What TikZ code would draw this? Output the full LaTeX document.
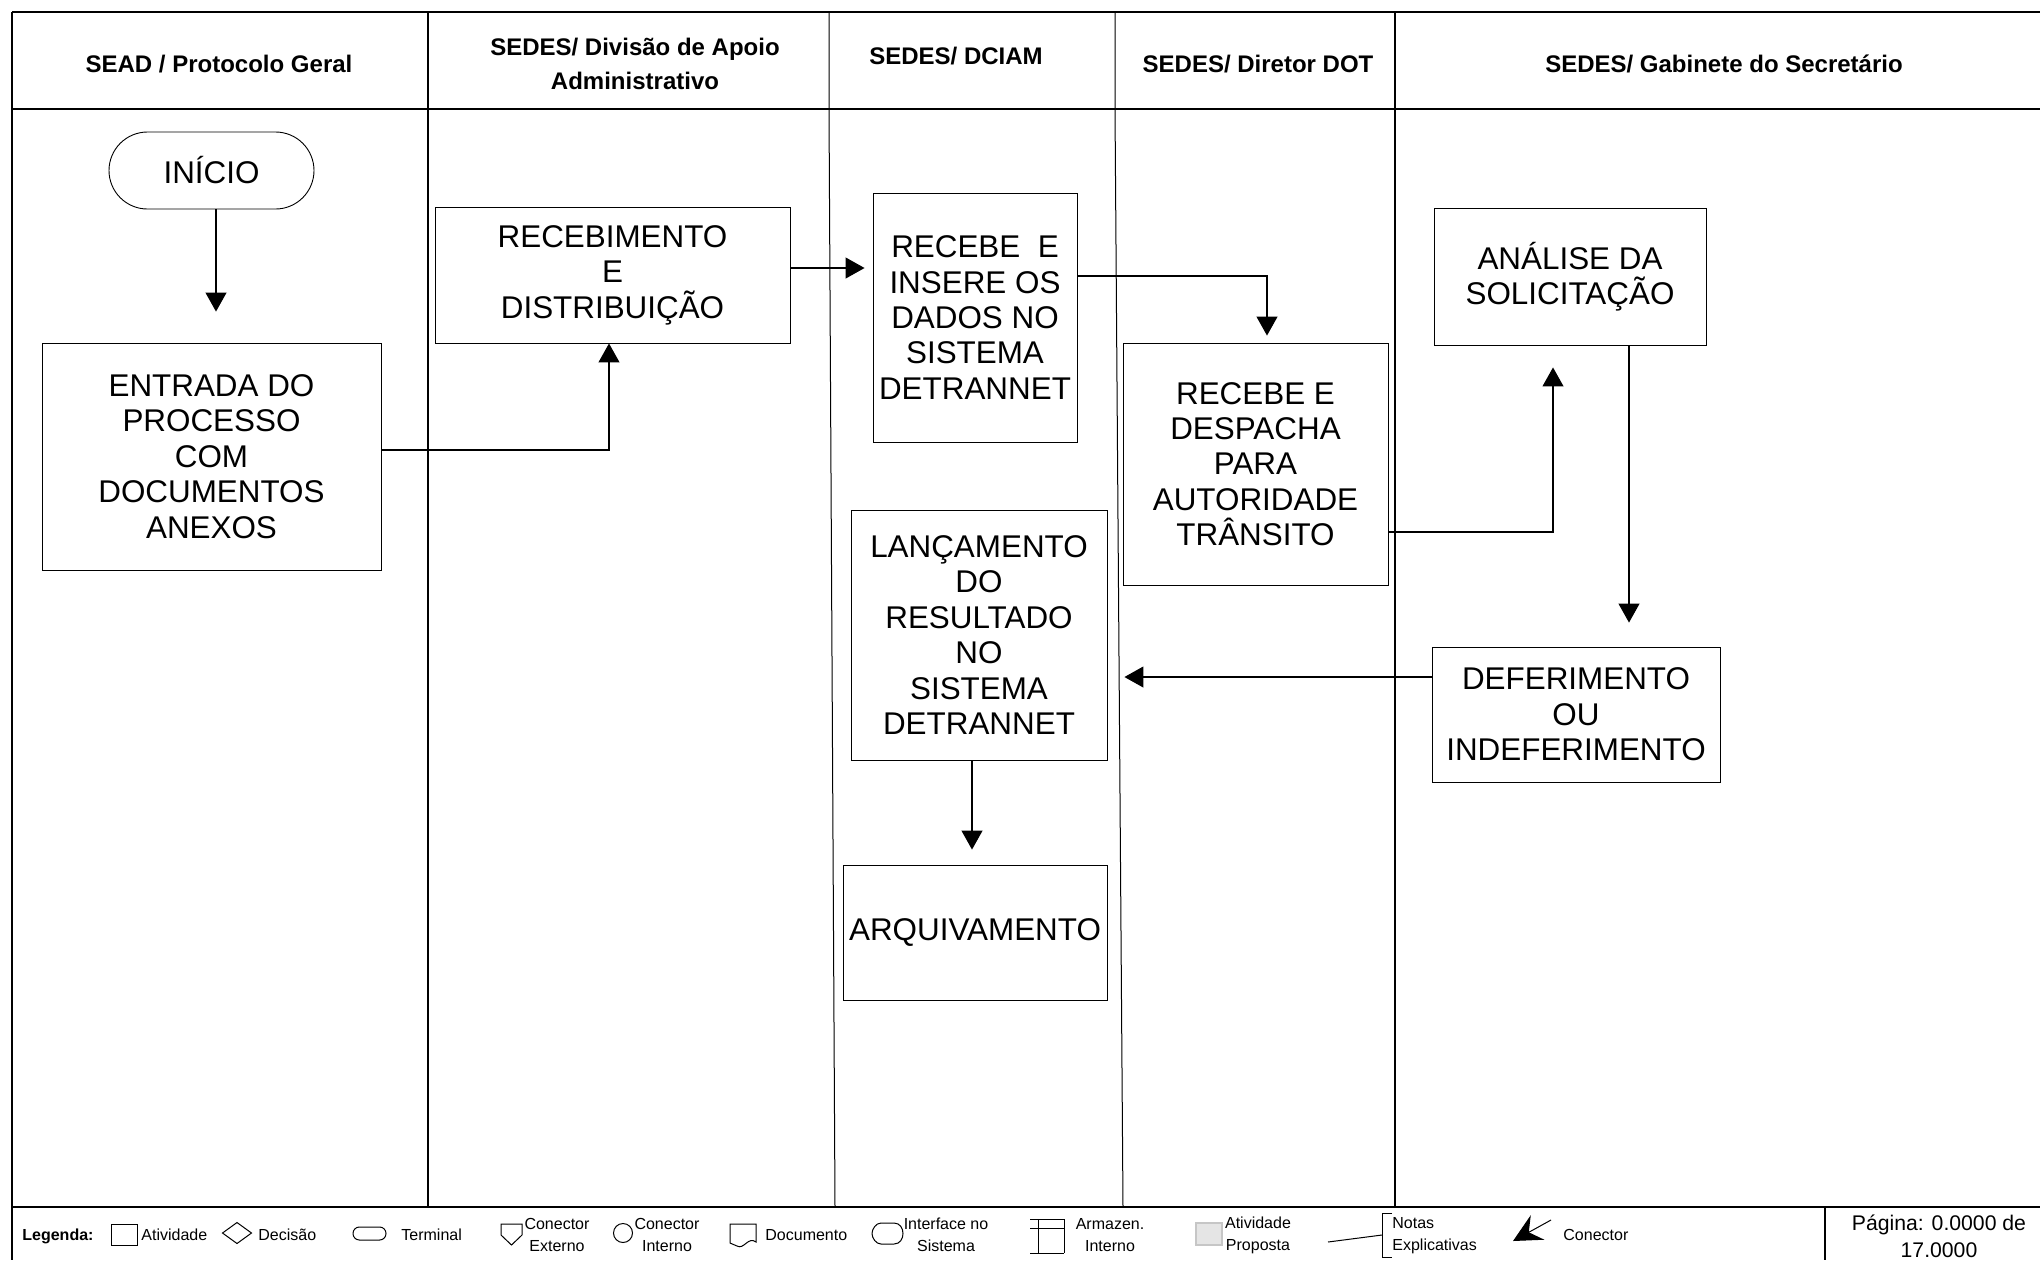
\documentclass[tikz,border=0pt]{standalone}
\usepackage{fontspec}
\setmainfont{Liberation Sans}
\usetikzlibrary{arrows.meta,shapes.geometric,shapes.misc,calc}

\begin{document}
\begin{tikzpicture}[x=0.5pt,y=-0.5pt,
  frame/.style={line width=1.4pt},
  lane/.style={line width=1.0pt},
  thinlane/.style={line width=0.5pt},
  hdr/.style={font=\fontsize{12}{17}\selectfont\bfseries, align=center, inner sep=0pt},
  proc/.style={draw, line width=0.45pt, align=center, inner sep=0pt,
               font=\fontsize{15.7}{17.7}\selectfont},
  arr/.style={line width=0.55pt, -{Triangle[width=10.5pt,length=9.5pt]}},
  leg/.style={font=\fontsize{8}{11}\selectfont, inner sep=0pt, align=center},
  legsym/.style={line width=0.5pt}
]
\useasboundingbox (0,0) rectangle (2040,1260);

% ---------- swimlane frame ----------
\draw[frame] (12,12) -- (2040,12);
\draw[lane] (12,109) -- (2040,109);
\draw[frame] (12,12) -- (12,1260);
\draw[frame] (428,12) -- (428,1207);
\draw[thinlane] (829,12) -- (829,109) -- (835,1207);
\draw[thinlane] (1115,12) -- (1115,109) -- (1123,1207);
\draw[lane] (1395,12) -- (1395,1207);
\draw[frame] (12,1207) -- (428,1207);
\draw[lane] (428,1207) -- (2040,1207);
\draw[lane] (1825,1207) -- (1825,1260);

% ---------- lane headers ----------
\node[hdr] (h1) at (219,64) {SEAD / Protocolo Geral};
\node[hdr] (h2) at (635,64) {SEDES/ Divisão de Apoio\\Administrativo};
\node[hdr] (h3) at (956,56) {SEDES/ DCIAM};
\node[hdr] (h4) at (1258,64) {SEDES/ Diretor DOT};
\node[hdr] (h5) at (1724,64) {SEDES/ Gabinete do Secretário};

% ---------- process steps ----------
\node[proc, rounded rectangle, minimum width=102.5pt, minimum height=38.5pt]
  (inicio) at (211.5,170.5) {INÍCIO};
\node[proc, minimum width=169.5pt, minimum height=113.5pt]
  (entrada) at (211.5,456.5) {ENTRADA DO\\PROCESSO\\COM\\DOCUMENTOS\\ANEXOS};
\node[proc, minimum width=177.5pt, minimum height=68pt]
  (receb) at (612.5,275) {RECEBIMENTO\\E\\DISTRIBUIÇÃO};
\node[proc, minimum width=102pt, minimum height=124.5pt]
  (recebe) at (975,317.5) {RECEBE\ \ E\\INSERE OS\\DADOS NO\\SISTEMA\\DETRANNET};
\node[proc, minimum width=132.5pt, minimum height=121pt]
  (despacha) at (1255.5,464) {RECEBE E\\DESPACHA\\PARA\\AUTORIDADE\\TRÂNSITO};
\node[proc, minimum width=136pt, minimum height=68.5pt]
  (analise) at (1570,276.5) {ANÁLISE DA\\SOLICITAÇÃO};
\node[proc, minimum width=144pt, minimum height=67.5pt]
  (defer) at (1576,714.5) {DEFERIMENTO\\OU\\INDEFERIMENTO};
\node[proc, minimum width=128pt, minimum height=125pt]
  (lanc) at (979,635) {LANÇAMENTO\\DO\\RESULTADO\\NO\\SISTEMA\\DETRANNET};
\node[proc, minimum width=132pt, minimum height=67.5pt]
  (arq) at (975,932.5) {ARQUIVAMENTO};

% ---------- connectors ----------
\draw[arr, shorten >=15.5pt] ([xshift=2.25pt]inicio.south) -- ([xshift=2.25pt]inicio.south |- entrada.north);
\draw[arr] ([yshift=3.25pt]entrada.east) -| ([xshift=-1.75pt]receb.south);
\draw[arr, shorten >=4pt] ([yshift=3.5pt]receb.east) -- ([yshift=3.5pt]receb.east -| recebe.west);
\draw[arr, shorten >=3.5pt] ([yshift=20.75pt]recebe.east) -| ([xshift=5.75pt]despacha.north);
\draw[arr, shorten >=11pt] ([yshift=-34pt]despacha.east) -| ([xshift=-8.5pt]analise.south);
\draw[arr, shorten >=12pt] ([xshift=29.5pt]analise.south) -- ([xshift=29.5pt]analise.south |- defer.north);
\draw[arr, shorten >=8.5pt] ([yshift=18.75pt]defer.west) -- ([yshift=18.75pt]defer.west -| lanc.east);
\draw[arr, shorten >=7.5pt] ([xshift=-3.5pt]lanc.south) -- ([xshift=-3.5pt]lanc.south |- arq.north);

% ---------- legend ----------
\node[leg, anchor=west, font=\fontsize{8}{11}\selectfont\bfseries] (lg) at (22,1236) {Legenda:};

\draw[legsym] (111,1224) rectangle (137,1245);
\node[leg, anchor=west] (l1) at (141,1235) {Atividade};

\draw[legsym] (222.5,1233) -- (237,1222.5) -- (251.5,1233) -- (237,1243.5) -- cycle;
\node[leg, anchor=west] (l2) at (258,1235) {Decisão};

\draw[legsym, rounded corners=3.2pt] (353,1227) rectangle (386,1240);
\node[leg, anchor=west] (l3) at (401,1235) {Terminal};

\draw[legsym] (501,1224) -- (522,1224) -- (522,1235) -- (511.5,1245) -- (501,1235) -- cycle;
\node[leg] (l4) at (557,1235) {Conector\\Externo};

\draw[legsym] (623,1233) circle[radius=9.5];
\node[leg] (l5) at (667,1235) {Conector\\Interno};

\draw[legsym] (730,1224) -- (756,1224) -- (756,1242)
  .. controls (748,1236) and (744,1250) .. (737,1246)
  .. controls (734,1245) .. (730,1243) -- cycle;
\node[leg, anchor=west] (l6) at (765,1235) {Documento};

\draw[legsym] (881,1223) -- (894,1223)
  .. controls (906,1223) and (906,1244) .. (894,1244) -- (881,1244)
  .. controls (876,1244) and (872,1238) .. (872,1233.5)
  .. controls (872,1229) and (876,1223) .. (881,1223) -- cycle;
\node[leg] (l7) at (946,1235) {Interface no\\Sistema};

\draw[legsym] (1030,1219) -- (1064,1219);
\draw[legsym] (1030,1228) -- (1064,1228);
\draw[legsym] (1030,1253) -- (1064,1253);
\draw[legsym] (1038,1219) -- (1038,1253);
\draw[legsym] (1064,1219) -- (1064,1253);
\node[leg] (l8) at (1110,1235) {Armazen.\\Interno};

\draw[line width=0.8pt, draw=gray!45, fill=gray!20] (1196,1223) rectangle (1222,1245);
\node[leg] (l9) at (1258,1235) {Atividade\\Proposta};

\draw[legsym] (1328,1242) -- (1382,1235);
\draw[legsym] (1392,1213) -- (1382,1213) -- (1382,1257) -- (1392,1257);
\node[leg, anchor=west, align=left] (l10) at (1392,1236) {Notas\\Explicativas};

\draw[legsym, -{Stealth[width=14pt,length=14pt,inset=5pt]}] (1551,1220) -- (1513,1241);
\node[leg, anchor=west] (l11) at (1563,1235) {Conector};

\node[leg, font=\fontsize{10.6}{13.5}\selectfont] (pg) at (1939,1236) {Página: 0.0000 de\\17.0000};

\end{tikzpicture}
\end{document}
